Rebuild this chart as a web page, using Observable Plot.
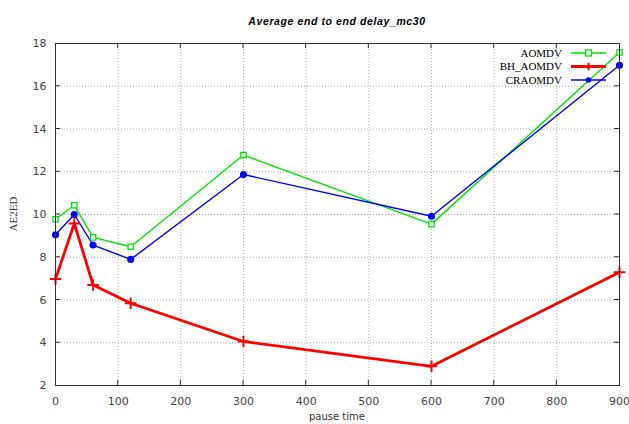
<!DOCTYPE html>
<html>
<head>
<meta charset="utf-8">
<script src="https://cdn.jsdelivr.net/npm/d3@7"></script>
<script src="https://cdn.jsdelivr.net/npm/@observablehq/plot@0.6"></script>
<style>
  html, body { margin: 0; padding: 0; background: #fff; overflow: hidden; }
</style>
</head>
<body>
<div id="chart"></div>
<script>
const pauseTime = [0, 30, 60, 120, 300, 600, 900];
const aomdv   = [9.78, 10.43, 8.93, 8.49, 12.78, 9.55, 17.58];
const bhAomdv = [6.98, 9.58, 6.70, 5.85, 4.06, 2.90, 7.30];
const craomdv = [9.05, 10.00, 8.57, 7.90, 11.87, 9.92, 16.98];
const xTicks = [0, 100, 200, 300, 400, 500, 600, 700, 800, 900];
const yTicks = [2, 4, 6, 8, 10, 12, 14, 16, 18];
const seriesNames = ["AOMDV", "BH_AOMDV", "CRAOMDV"];
const seriesColors = ["#00e600", "#ff0000", "#0000ff"];

const toRows = (vals, name) => pauseTime.map((t, i) => ({t, v: vals[i], name}));
const rowsA = toRows(aomdv, seriesNames[0]);
const rowsB = toRows(bhAomdv, seriesNames[1]);
const rowsC = toRows(craomdv, seriesNames[2]);

const W = 629, H = 424;
const chart = Plot.plot({
  width: W, height: H,
  marginLeft: 55, marginRight: 10, marginTop: 43, marginBottom: 39,
  style: {fontFamily: "'DejaVu Sans', sans-serif", fontSize: "11px", color: "#444", background: "#fff"},
  x: {domain: [0, 900], ticks: xTicks, tickSize: 0, tickPadding: 12, label: null},
  y: {domain: [2, 18], ticks: yTicks, tickSize: 0, tickPadding: 9, label: null},
  marks: [
    Plot.gridX(xTicks.slice(1, -1), {stroke: "#aaa", strokeOpacity: 1, strokeDasharray: "1,2"}),
    Plot.gridY(yTicks.slice(1, -1), {stroke: "#aaa", strokeOpacity: 1, strokeDasharray: "1,2"}),
    Plot.line(rowsA, {x: "t", y: "v", stroke: seriesColors[0], strokeWidth: 1.4}),
    Plot.line(rowsC, {x: "t", y: "v", stroke: seriesColors[2], strokeWidth: 1.4}),
    Plot.line(rowsB, {x: "t", y: "v", stroke: seriesColors[1], strokeWidth: 2.8}),
    Plot.dot(rowsA, {x: "t", y: "v", symbol: "square", r: 3, stroke: seriesColors[0], fill: "white", strokeWidth: 1.3}),
    Plot.dot(rowsB, {x: "t", y: "v", symbol: "plus", r: 3.8, stroke: seriesColors[1], strokeWidth: 2}),
    Plot.dot(rowsC, {x: "t", y: "v", r: 2.8, fill: seriesColors[2], stroke: seriesColors[2]}),
    Plot.frame({stroke: "#333", strokeWidth: 1})
  ]
});

document.getElementById("chart").appendChild(chart);

const svg = d3.select(chart);
const xs = chart.scale("x"), ys = chart.scale("y");
const x0 = xs.apply(0), x1 = xs.apply(900), y0 = ys.apply(2), y1 = ys.apply(18);

// inward ticks (with mirror on top/right)
const tg = svg.append("g").attr("stroke", "#333").attr("stroke-width", 1);
xTicks.slice(1, -1).forEach(t => {
  const px = xs.apply(t);
  tg.append("line").attr("x1", px).attr("x2", px).attr("y1", y0).attr("y2", y0 - 5);
  tg.append("line").attr("x1", px).attr("x2", px).attr("y1", y1).attr("y2", y1 + 5);
});
yTicks.slice(1, -1).forEach(t => {
  const py = ys.apply(t);
  tg.append("line").attr("x1", x0).attr("x2", x0 + 5).attr("y1", py).attr("y2", py);
  tg.append("line").attr("x1", x1).attr("x2", x1 - 5).attr("y1", py).attr("y2", py);
});

// title
svg.append("text")
  .attr("x", (x0 + x1) / 2).attr("y", 25)
  .attr("text-anchor", "middle")
  .attr("font-family", "'Liberation Sans', Arial, sans-serif")
  .attr("font-style", "italic").attr("font-weight", "bold")
  .attr("font-size", 10.5).attr("letter-spacing", 0.6)
  .attr("fill", "#000")
  .text("Average end to end delay_mc30");

// axis labels
svg.append("text")
  .attr("x", (x0 + x1) / 2).attr("y", 420)
  .attr("text-anchor", "middle")
  .attr("font-family", "'DejaVu Sans', sans-serif")
  .attr("font-size", 10).attr("fill", "#333")
  .text("pause time");
svg.append("text")
  .attr("transform", `translate(17,${(y0 + y1) / 2}) rotate(-90)`)
  .attr("text-anchor", "middle")
  .attr("font-family", "'Liberation Serif', serif")
  .attr("font-size", 11).attr("fill", "#333")
  .text("AE2ED");

// legend
const lg = svg.append("g");
seriesNames.forEach((name, i) => {
  const ly = 53 + i * 13.5;
  lg.append("text")
    .attr("x", 562).attr("y", ly + 3.8)
    .attr("text-anchor", "end")
    .attr("font-family", "'Liberation Serif', serif")
    .attr("font-size", 11).attr("fill", "#000")
    .text(name);
  lg.append("line")
    .attr("x1", 571).attr("x2", 606).attr("y1", ly).attr("y2", ly)
    .attr("stroke", seriesColors[i]).attr("stroke-width", i === 1 ? 2.8 : 1.4);
  const cx = 588.5;
  if (i === 0) {
    lg.append("rect").attr("x", cx - 3).attr("y", ly - 3).attr("width", 6).attr("height", 6)
      .attr("fill", "white").attr("stroke", seriesColors[0]).attr("stroke-width", 1.3);
  } else if (i === 1) {
    lg.append("path").attr("d", `M${cx - 3.8},${ly}H${cx + 3.8}M${cx},${ly - 3.8}V${ly + 3.8}`)
      .attr("stroke", seriesColors[1]).attr("stroke-width", 2);
  } else {
    lg.append("circle").attr("cx", cx).attr("cy", ly).attr("r", 2.8).attr("fill", seriesColors[2]);
  }
});
</script>
</body>
</html>
